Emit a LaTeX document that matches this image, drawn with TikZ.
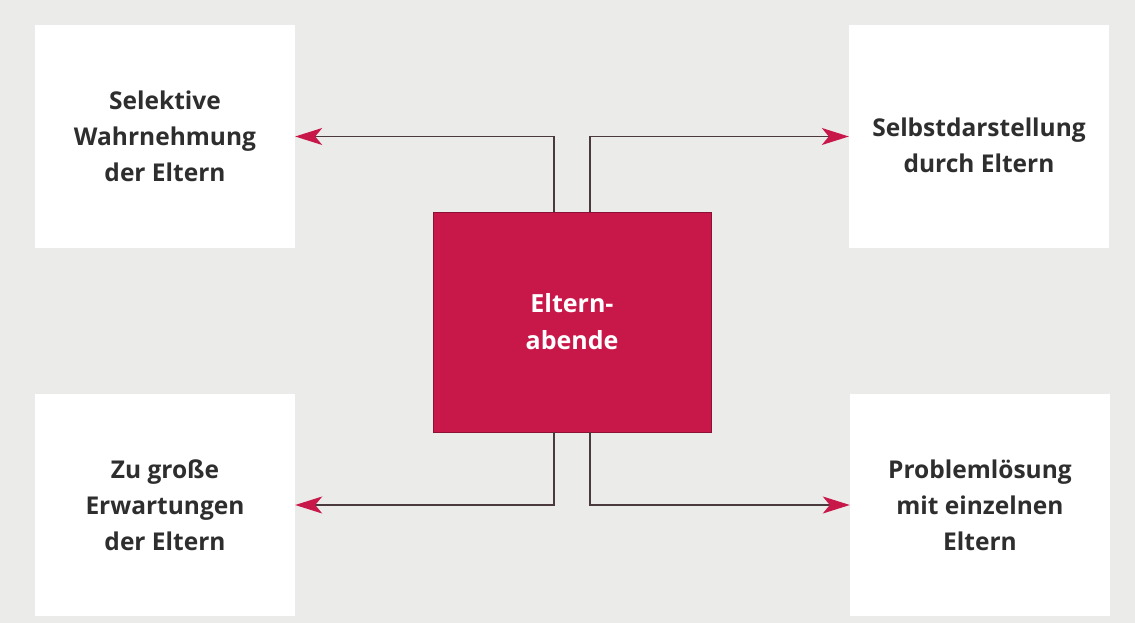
\documentclass[tikz,border=0pt]{standalone}
\usepackage{fontspec}
\setmainfont{Open Sans}
\usetikzlibrary{arrows.meta}
\definecolor{paper}{HTML}{EBEBE9}
\definecolor{crimson}{HTML}{C8184A}
\definecolor{inktext}{HTML}{2E2E2E}
\definecolor{linecol}{HTML}{4A3A3E}
\tikzset{
  topic/.style={fill=white, draw=none, minimum width=260pt, minimum height=222pt,
    inner sep=0pt, align=center, text=inktext,
    font=\bfseries\fontsize{24.5}{36}\selectfont},
  hub/.style={fill=crimson, draw=crimson!70!black, line width=0.6pt,
    minimum width=278pt, minimum height=220pt, inner sep=0pt, align=center,
    text=white, font=\bfseries\fontsize{25}{37}\selectfont},
  link/.style={draw=linecol, line width=1.3pt,
    -{Stealth[length=27pt, width=17pt, inset=7pt, color=crimson]}}
}
\begin{document}
\begin{tikzpicture}[x=1pt, y=-1pt]
  % page and background
  \fill[paper] (0,0) rectangle (1135,623);
  \useasboundingbox (0,0) rectangle (1135,623);

  % the four outcome boxes
  \node[topic] (tl) at (165,136.5) {Selektive\\Wahrnehmung\\der Eltern};
  \node[topic] (tr) at (979,136.5) {\mbox{}\\Selbstdarstellung\\durch Eltern};
  \node[topic] (bl) at (165,505) {Zu große\\Erwartungen\\der Eltern};
  \node[topic] (br) at (980,505) {Problemlösung\\mit einzelnen\\Eltern};

  % central box
  \node[hub] (c) at (572,322) {Eltern-\\abende};

  % connectors
  \draw[link] ([xshift=-18pt]c.north) |- (tl.east);
  \draw[link] ([xshift=18pt]c.north) |- (tr.west);
  \draw[link] ([xshift=-18pt]c.south) |- (bl.east);
  \draw[link] ([xshift=18pt]c.south) |- (br.west);
\end{tikzpicture}
\end{document}
